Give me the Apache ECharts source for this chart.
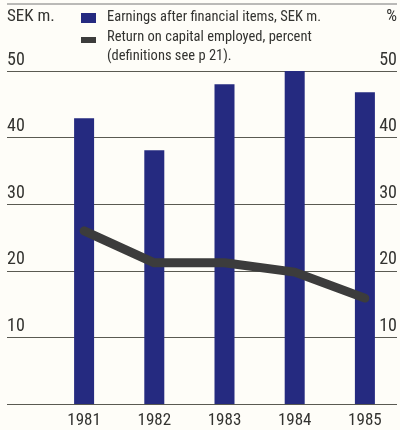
<!DOCTYPE html>
<html><head><meta charset="utf-8">
<script src="https://cdn.jsdelivr.net/npm/echarts@6/dist/echarts.min.js"></script>
<style>html,body{margin:0;padding:0;background:#fefdf8}#c{width:400px;height:430px}</style>
</head><body><div id="c"></div>
<script>
var years = ['1981','1982','1983','1984','1985'];
var earnings = [42.9, 38.1, 48.0, 50.0, 46.8];
var returnPct = [26.0, 21.2, 21.2, 19.8, 15.9];
var yTicks = [0, 10, 20, 30, 40, 50];
var leftUnit = 'SEK m.';
var rightUnit = '%';
var legendBar = 'Earnings after financial items, SEK m.';
var legendLine1 = 'Return on capital employed, percent';
var legendLine2 = '(definitions see p 21).';

var FONT = '"Roboto Condensed", "Liberation Sans", sans-serif';
var TXT = '#333330';
var chart = echarts.init(document.getElementById('c'));
var lbl = function (v) { return v === 0 ? '' : String(v); };
chart.setOption({
  backgroundColor: '#fefdf8',
  animation: false,
  grid: [
    {left: 7, right: 3, top: 71, bottom: 26},
    {left: 49, right: 0, top: 71, bottom: 26}
  ],
  xAxis: [
    {gridIndex: 0, type: 'value', show: false, min: 0, max: 1},
    {gridIndex: 1, type: 'category', data: years,
     axisLine: {show: false}, axisTick: {show: false},
     axisLabel: {color: TXT, fontFamily: FONT, fontSize: 17, margin: 8}}
  ],
  yAxis: [
    {gridIndex: 0, type: 'value', min: 0, max: 50, interval: 10, position: 'left',
     axisLine: {show: false}, axisTick: {show: false},
     splitLine: {show: true, lineStyle: {color: '#5a5a52', width: 1}},
     axisLabel: {inside: true, margin: 0, align: 'left', verticalAlign: 'bottom', padding: [0,0,2,0],
       color: TXT, fontFamily: FONT, fontSize: 18, formatter: lbl}},
    {gridIndex: 0, type: 'value', min: 0, max: 50, interval: 10, position: 'right',
     axisLine: {show: false}, axisTick: {show: false}, splitLine: {show: false},
     axisLabel: {inside: true, margin: 0, align: 'right', verticalAlign: 'bottom', padding: [0,0,2,0],
       color: TXT, fontFamily: FONT, fontSize: 18, formatter: lbl}},
    {gridIndex: 1, type: 'value', min: 0, max: 50, interval: 10, show: false}
  ],
  graphic: [
    {type: 'line', shape: {x1: 7, y1: 4, x2: 397, y2: 4}, style: {stroke: '#777', lineWidth: 1}},
    {type: 'text', left: 7, top: 8, style: {text: leftUnit, fill: TXT, font: '17px ' + FONT}},
    {type: 'text', right: 3, top: 8, style: {text: rightUnit, fill: TXT, font: '17px ' + FONT}},
    {type: 'rect', shape: {x: 81, y: 13, width: 15, height: 10}, style: {fill: '#252a80'}},
    {type: 'rect', shape: {x: 81, y: 37, width: 15, height: 6}, style: {fill: '#3c3c3c'}},
    {type: 'text', left: 107, top: 10, style: {text: legendBar, fill: TXT, font: '14.5px ' + FONT}},
    {type: 'text', left: 107, top: 30, style: {text: legendLine1, fill: TXT, font: '14.5px ' + FONT}},
    {type: 'text', left: 107, top: 49, style: {text: legendLine2, fill: TXT, font: '14.5px ' + FONT}}
  ],
  series: [
    {type: 'bar', xAxisIndex: 1, yAxisIndex: 2, data: earnings, barWidth: 20,
     itemStyle: {color: '#252a80'}, z: 2},
    {type: 'line', xAxisIndex: 1, yAxisIndex: 2, data: returnPct, symbol: 'none',
     lineStyle: {color: '#3c3c3c', width: 9, cap: 'round', join: 'round'}, z: 3}
  ]
});
</script></body></html>
